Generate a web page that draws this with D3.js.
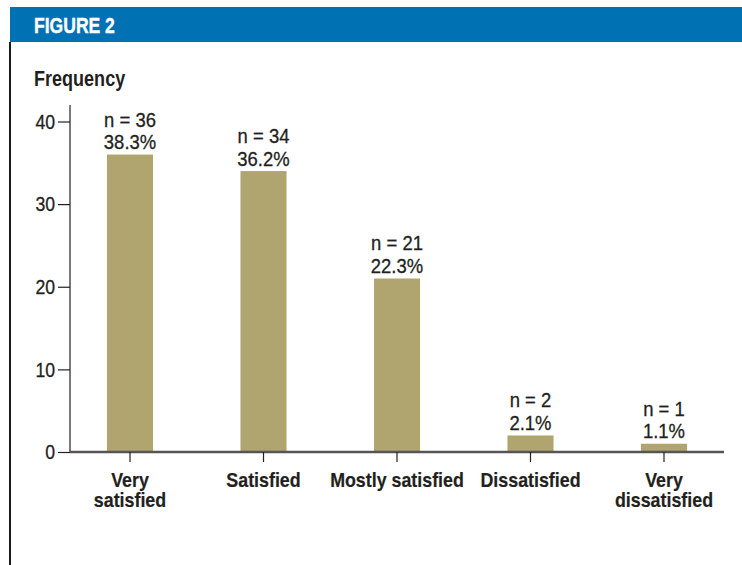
<!DOCTYPE html>
<html>
<head>
<meta charset="utf-8">
<script src="https://cdn.jsdelivr.net/npm/d3@7"></script>
<style>
  html, body { margin: 0; padding: 0; background: #fff; }
  svg { display: block; }
  text { font-family: "Liberation Sans", Arial, sans-serif; }
</style>
</head>
<body>
<script>
const categories = ["Very satisfied", "Satisfied", "Mostly satisfied", "Dissatisfied", "Very dissatisfied"];
const categoryLines = [["Very", "satisfied"], ["Satisfied"], ["Mostly satisfied"], ["Dissatisfied"], ["Very", "dissatisfied"]];
const counts = [36, 34, 21, 2, 1];
const percents = ["38.3%", "36.2%", "22.3%", "2.1%", "1.1%"];
const yTicks = [0, 10, 20, 30, 40];
const figureTitle = "FIGURE 2";
const yTitle = "Frequency";

const W = 742, H = 565;
const ink = "#231f20";
const svg = d3.select("body").append("svg").attr("width", W).attr("height", H);

// header band
svg.append("rect").attr("x", 10).attr("y", 7).attr("width", W - 10).attr("height", 35).attr("fill", "#0071b3");
svg.append("rect").attr("x", 9).attr("y", 42).attr("width", 2).attr("height", H - 42).attr("fill", "#1a1a1a");
svg.append("text").attr("transform", "translate(34,32.5) scale(0.78,1)").attr("fill", "#fff")
  .attr("stroke", "#fff").attr("stroke-width", 0.4)
  .attr("font-size", 22.5).attr("font-weight", "bold").text(figureTitle);

svg.append("text").attr("transform", "translate(34,86) scale(0.82,1)").attr("fill", ink)
  .attr("font-size", 22).attr("font-weight", "bold").text(yTitle);

const x = d3.scaleBand().domain(categories).range([70, 724]).paddingInner(0.655).paddingOuter(0.277);
const y = d3.scaleLinear().domain([0, 40]).range([452, 121.5]);

// y axis
const yAxis = svg.append("g").attr("transform", "translate(70,0)")
  .call(d3.axisLeft(y).tickValues(yTicks).tickSize(12).tickPadding(3).tickFormat(d3.format("d")));
yAxis.select(".domain").remove();
yAxis.selectAll(".tick line").attr("stroke", ink).attr("stroke-width", 1.2);
yAxis.selectAll(".tick text").attr("fill", ink).attr("font-size", 21)
  .attr("font-family", null).attr("stroke", ink).attr("stroke-width", 0.3)
  .attr("x", -15 / 0.84).attr("transform", "scale(0.84,1)");
svg.append("line").attr("x1", 70).attr("x2", 70).attr("y1", 105).attr("y2", y(0))
  .attr("stroke", ink).attr("stroke-width", 1.2);

// bars
svg.append("g").selectAll("rect").data(categories).join("rect")
  .attr("x", d => x(d)).attr("width", x.bandwidth())
  .attr("y", (d, i) => y(counts[i])).attr("height", (d, i) => y(0) - y(counts[i]))
  .attr("fill", "#b1a56f");

// x axis
const xAxis = svg.append("g").attr("transform", `translate(0,${y(0)})`)
  .call(d3.axisBottom(x).tickSize(10).tickSizeOuter(0).tickFormat(""));
xAxis.select(".domain").attr("stroke", "#555").attr("stroke-width", 2.4)
  .attr("d", `M70,0H724`);
xAxis.selectAll(".tick line").attr("stroke", ink).attr("stroke-width", 1.2);

// x labels
const cx = d => x(d) + x.bandwidth() / 2;
const xl = svg.append("g").selectAll("text").data(categories).join("text")
  .attr("transform", d => `translate(${cx(d)},486.5) scale(0.87,1)`)
  .attr("text-anchor", "middle").attr("font-size", 20.5).attr("font-weight", "bold").attr("fill", ink)
  .attr("stroke", ink).attr("stroke-width", 0.2);
xl.each(function(d, i) {
  const t = d3.select(this);
  categoryLines[i].forEach((ln, j) => {
    t.append("tspan").attr("x", 0).attr("dy", j === 0 ? 0 : 21).text(ln);
  });
});

// value labels
const vl = svg.append("g").selectAll("g").data(categories).join("g");
vl.append("text").attr("transform", (d, i) => `translate(${cx(d)},${y(counts[i]) - 28}) scale(0.9,1)`)
  .attr("text-anchor", "middle").attr("font-size", 20.5).attr("fill", ink)
  .attr("stroke", ink).attr("stroke-width", 0.3)
  .text((d, i) => "n = " + counts[i]);
vl.append("text").attr("transform", (d, i) => `translate(${cx(d)},${y(counts[i]) - 5.5}) scale(0.9,1)`)
  .attr("text-anchor", "middle").attr("font-size", 20.5).attr("fill", ink)
  .attr("stroke", ink).attr("stroke-width", 0.3)
  .text((d, i) => percents[i]);
</script>
</body>
</html>
